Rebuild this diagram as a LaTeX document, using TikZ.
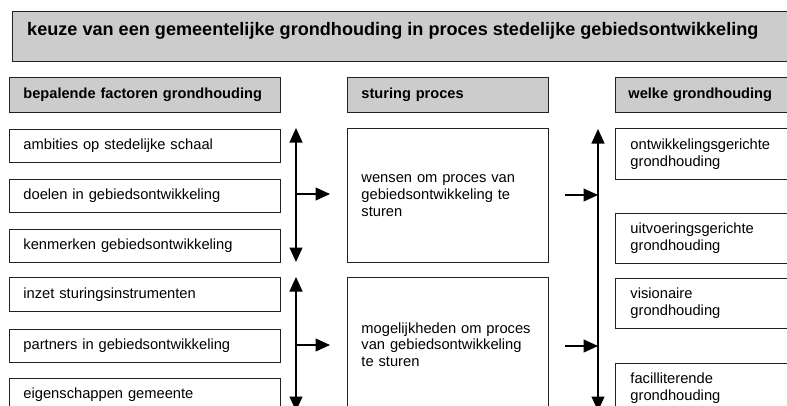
\documentclass[tikz,border=0pt]{standalone}
\usepackage{fontspec}
\setmainfont{Liberation Sans}
\usetikzlibrary{arrows.meta}
\definecolor{headgray}{HTML}{CCCCCC}
\definecolor{edge}{HTML}{222222}
\tikzset{
  x=1pt, y=-1pt,
  boxbase/.style={draw=edge, line width=0.9pt, rectangle, anchor=north west,
    inner xsep=14pt, inner ysep=0pt, align=left},
  itembox/.style={boxbase, font=\fontsize{14.7}{16.7}\selectfont},
  headbox/.style={boxbase, fill=headgray, font=\fontsize{14.6}{16.7}\selectfont\bfseries},
  flow/.style={line width=1.1pt, -{Triangle[length=14.5pt,width=13pt]}},
  twoway/.style={line width=1.1pt, {Triangle[length=14.5pt,width=13pt]}-{Triangle[length=14.5pt,width=13pt]}}
}
\begin{document}
\begin{tikzpicture}
\useasboundingbox (0,0) rectangle (787,405);
\clip (0,0) rectangle (787,405);

% title bar
\draw[draw=edge, line width=0.9pt, fill=headgray] (12,11) rectangle (820,61);
\node[anchor=west, inner sep=0pt, font=\fontsize{18.1}{20}\selectfont\bfseries] (title) at (27,31)
  {keuze van een gemeentelijke grondhouding in proces stedelijke gebiedsontwikkeling};

% column headers
\node[headbox, text width=243pt, minimum height=35pt] (hL) at (9,77) {bepalende factoren grondhouding};
\node[headbox, text width=173pt, minimum height=35pt] (hM) at (347,77) {sturing proces};
\node[headbox, text width=200pt, minimum height=35pt, inner xsep=13pt] (hR) at (615,77) {welke grondhouding};

% determining factors
\node[itembox, text width=243pt, minimum height=33pt] (f1) at (9,129) {ambities op stedelijke schaal};
\node[itembox, text width=243pt, minimum height=33pt] (f2) at (9,179) {doelen in gebiedsontwikkeling};
\node[itembox, text width=243pt, minimum height=33pt] (f3) at (9,229) {kenmerken gebiedsontwikkeling};
\node[itembox, text width=243pt, minimum height=34pt] (f4) at (9,277) {inzet sturingsinstrumenten};
\node[itembox, text width=243pt, minimum height=33pt] (f5) at (9,329) {partners in gebiedsontwikkeling};
\node[itembox, text width=243pt, minimum height=33pt] (f6) at (9,378) {eigenschappen gemeente};

% process steering
\node[itembox, text width=173pt, minimum height=134pt] (s1) at (347,128)
  {wensen om proces van\\gebiedsontwikkeling te\\sturen};
\node[itembox, text width=173pt, minimum height=134pt] (s2) at (347,277)
  {mogelijkheden om proces\\van gebiedsontwikkeling\\te sturen};

% land policy types
\node[itembox, text width=200pt, minimum height=51pt, inner xsep=15pt] (g1) at (615,128)
  {ontwikkelingsgerichte\\grondhouding};
\node[itembox, text width=200pt, minimum height=50pt, inner xsep=15pt] (g2) at (615,213)
  {uitvoeringsgerichte\\grondhouding};
\node[itembox, text width=200pt, minimum height=50pt, inner xsep=15pt] (g3) at (615,278)
  {visionaire\\grondhouding};
\node[itembox, text width=200pt, minimum height=50pt, inner xsep=15pt] (g4) at (615,363)
  {facilliterende\\grondhouding};

% arrow anchor points
\coordinate (aTop) at (296,128);
\coordinate (aBot) at (296,262);
\coordinate (bTop) at (296,277);
\coordinate (bBot) at (296,411);
\coordinate (aMid) at (296,194);
\coordinate (bMid) at (296,345);
\coordinate (aEnd) at (330,194);
\coordinate (bEnd) at (330,345);
\coordinate (rTop) at (598,129);
\coordinate (rBot) at (598,411);
\coordinate (cStart) at (565,195);
\coordinate (dStart) at (565,346);
\coordinate (cEnd) at (598,195);
\coordinate (dEnd) at (598,346);

% connectors
\draw[twoway] (aTop) -- (aBot);
\draw[twoway] (bTop) -- (bBot);
\draw[flow] (aMid) -- (aEnd);
\draw[flow] (bMid) -- (bEnd);
\draw[twoway] (rTop) -- (rBot);
\draw[flow] (cStart) -- (cEnd);
\draw[flow] (dStart) -- (dEnd);
\end{tikzpicture}
\end{document}
